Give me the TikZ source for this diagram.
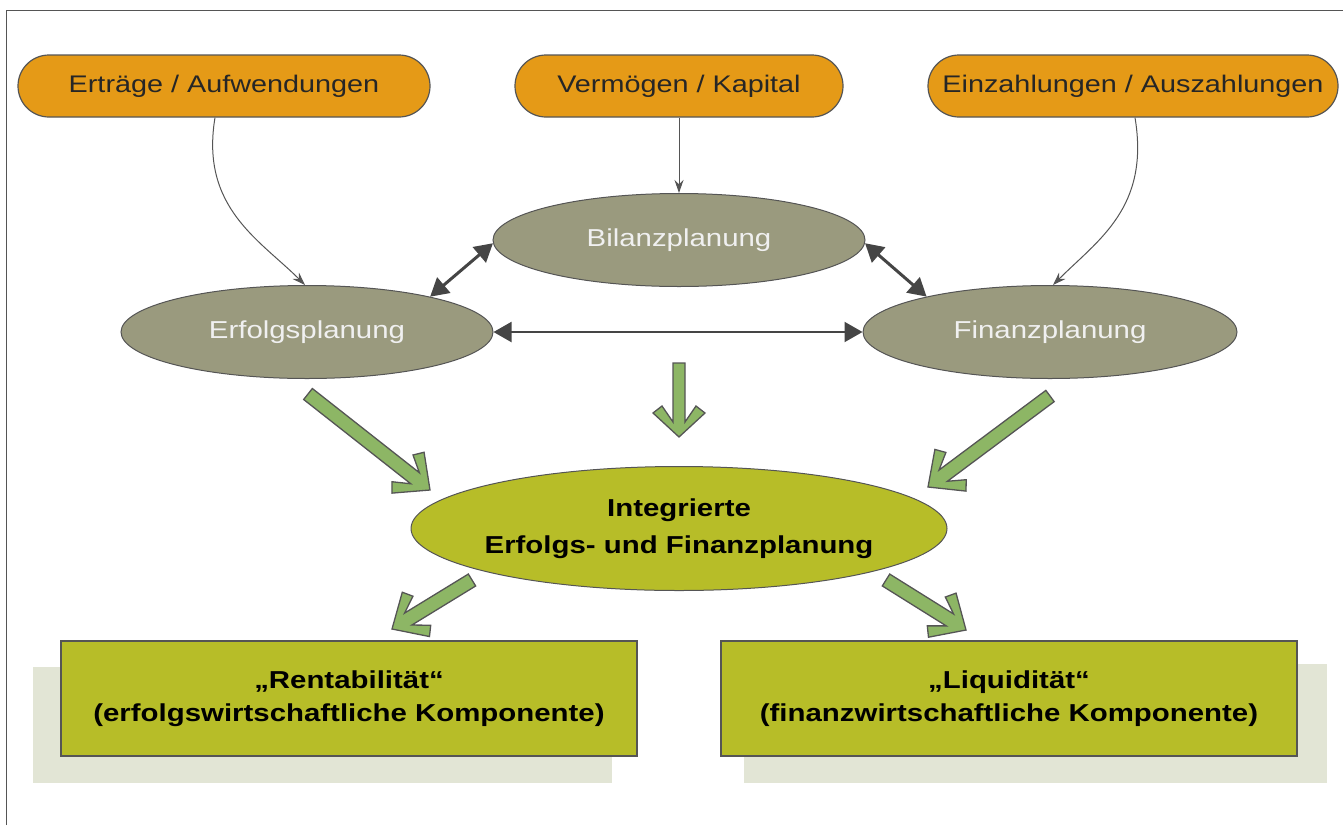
\documentclass[tikz,border=0pt]{standalone}
\usepackage{fontspec}
\setmainfont[FakeStretch=1.2]{Liberation Sans}
\usetikzlibrary{shapes.geometric,arrows.meta,calc}
\definecolor{orangeF}{HTML}{E59A17}
\definecolor{grayF}{HTML}{9A9A7E}
\definecolor{oliveF}{HTML}{B7BD28}
\definecolor{greenF}{HTML}{8DB665}
\definecolor{shadowF}{HTML}{E2E5D5}
\definecolor{lineD}{HTML}{454545}
\definecolor{frameC}{HTML}{555555}
\newcommand{\garrow}[5]{% start, tip, halfwidth, arm-along, arm-perp
  \draw[garrowstyle] (#2)
    -- ($(#2)!#4!(#1)!#5!90:(#1)$)
    -- ($(#2)!#4+7pt!(#1)!#5-9pt!90:(#1)$)
    -- ($(#2)!#4-9pt!(#1)!#3!90:(#1)$)
    -- ($(#1)!#3!-90:(#2)$)
    -- ($(#1)!#3!90:(#2)$)
    -- ($(#2)!#4-9pt!(#1)!#3!-90:(#1)$)
    -- ($(#2)!#4+7pt!(#1)!#5-9pt!-90:(#1)$)
    -- ($(#2)!#4!(#1)!#5!-90:(#1)$)
    -- cycle;}
\begin{document}
\begin{tikzpicture}[x=1pt,y=-1pt,
  topbox/.style={draw=frameC, line width=1.2pt, fill=orangeF, rounded corners=31pt,
    minimum height=62pt, inner sep=0pt, font=\fontsize{24}{28}\selectfont, text=black!85},
  plan/.style={ellipse, draw=frameC, line width=1pt, fill=grayF, minimum height=93pt,
    minimum width=372pt, inner sep=0pt, font=\fontsize{24.5}{28}\selectfont, text=white!94!black},
  thinconn/.style={draw=frameC, line width=1pt, -{Stealth[length=13pt,width=9pt]}},
  dblconn/.style={draw=lineD, line width=3pt, {Triangle[length=18pt,width=20pt]}-{Triangle[length=18pt,width=20pt]}},
  garrowstyle/.style={draw=frameC, line width=1.3pt, fill=greenF, line join=miter},
  resbox/.style={draw=frameC, line width=1.2pt, fill=oliveF, minimum width=576pt, minimum height=115pt,
    inner sep=0pt, align=center, font=\bfseries\fontsize{24.5}{33}\selectfont},
  shadowbox/.style={fill=shadowF, draw=none}
]
\useasboundingbox (0,0) rectangle (1343,825);
% frame
\draw[frameC, line width=1pt] (6,825) -- (6,10) -- (1343,10);

% top boxes
\node[topbox, minimum width=412pt] (ea) at (224,86) {Erträge / Aufwendungen};
\node[topbox, minimum width=328pt] (vk) at (679,86) {Vermögen / Kapital};
\node[topbox, minimum width=410pt] (ez) at (1133,86) {Einzahlungen / Auszahlungen};

% planning ellipses
\node[plan] (bil) at (679,240) {Bilanzplanung};
\node[plan] (erf) at (307,332) {Erfolgsplanung};
\node[plan, minimum width=374pt] (fin) at (1050,332) {Finanzplanung};

% thin connectors
\draw[thinconn] ($(ea.south)+(-9,0)$) .. controls +(-15,90) and +(-45,-45) .. ($(erf.north)+(-2,0)$);
\draw[thinconn] (vk.south) -- (bil.north);
\draw[thinconn] ($(ez.south)+(2,0)$) .. controls +(15,90) and +(45,-45) .. ($(fin.north)+(3,0)$);

% double arrows
\draw[dblconn] (erf.16) -- (bil.181);
\draw[dblconn] (fin.164) -- (bil.-1);
\draw[dblconn, line width=2pt] (erf.east) -- (fin.west);

% integrated ellipse
\node[ellipse, draw=frameC, line width=1pt, fill=oliveF, minimum width=536pt, minimum height=124pt,
  inner sep=0pt] (int) at (679,528.5) {};
\node[align=center, inner sep=0pt, font=\bfseries\fontsize{24.5}{37}\selectfont] (intt) at (int.center)
  {Integrierte\\Erfolgs- und Finanzplanung};

% result boxes with shadows
\fill[shadowbox] (33,667) rectangle (612,783);
\fill[shadowbox] (744,664) rectangle (1327,783);
\node[resbox] (ren) at (349,698.5) {„Rentabilität“\\(erfolgswirtschaftliche Komponente)};
\node[resbox] (liq) at (1009,698.5) {„Liquidität“\\(finanzwirtschaftliche Komponente)};

% green block arrows
\coordinate (g1s) at (308,394); \coordinate (g1t) at (430,490);
\coordinate (g2s) at (679,363); \coordinate (g2t) at (679,437);
\coordinate (g3s) at (1050,396); \coordinate (g3t) at (928,487);
\coordinate (g4s) at (472,580); \coordinate (g4t) at (392,629);
\coordinate (g5s) at (886,580); \coordinate (g5t) at (966,630);
\garrow{g1s}{g1t}{7pt}{28pt}{26pt}
\garrow{g2s}{g2t}{6pt}{24pt}{26pt}
\garrow{g3s}{g3t}{7pt}{28pt}{26pt}
\garrow{g4s}{g4t}{7pt}{28pt}{26pt}
\garrow{g5s}{g5t}{7pt}{28pt}{26pt}
\end{tikzpicture}
\end{document}
